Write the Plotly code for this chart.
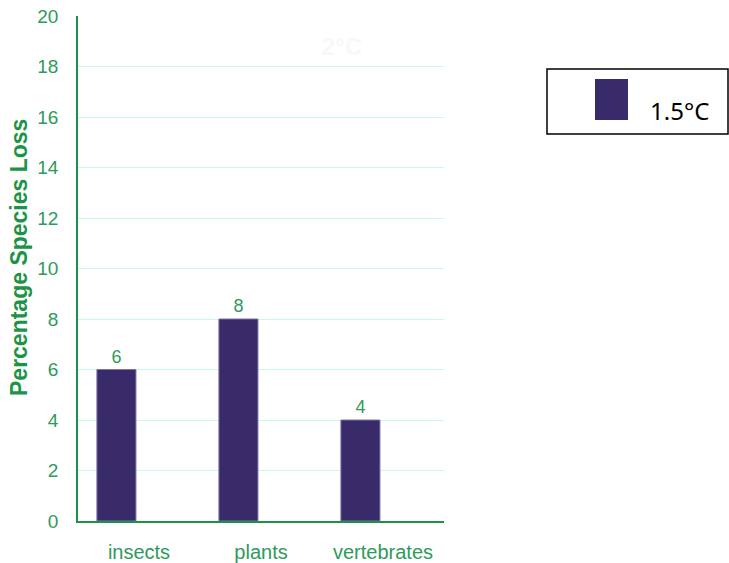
import plotly.graph_objects as go

# Species loss at 1.5°C warming, by group
categories = ["insects", "plants", "vertebrates"]
loss_15 = [6, 8, 4]
series_name = "1.5°C"
ghost_label = "2°C"
y_title = "Percentage Species Loss"

green = "#2e9a5c"
axis_green = "#1c9446"
bar_color = "#392a6a"

W, H = 729, 563
L, R, T, B = 78, 444, 16, 521  # plot area in pixels


def px(x):
    return (x - L) / (R - L)


def py(y):
    return (B - y) / (B - T)


fig = go.Figure()
fig.add_trace(go.Bar(
    x=categories,
    y=loss_15,
    name=series_name,
    width=0.32,
    offset=-0.345,
    marker=dict(color=bar_color, line=dict(color="#7e72a6", width=1)),
    text=[str(v) for v in loss_15],
    textposition="outside",
    textfont=dict(color=green, size=18, family="Liberation Sans, Arial"),
    cliponaxis=False,
    showlegend=False,
))

fig.update_layout(
    width=W,
    height=H,
    margin=dict(l=L, r=W - R, t=T, b=H - B, autoexpand=False),
    plot_bgcolor="white",
    paper_bgcolor="white",
    font=dict(family="Liberation Sans, Arial", color=green, size=16),
    xaxis=dict(
        automargin=False,
        showline=True, linecolor=axis_green, linewidth=1.5,
        showgrid=False, ticks="", ticklabelstandoff=12,
        tickfont=dict(size=20, color=green),
    ),
    yaxis=dict(
        automargin=False,
        range=[0, 20], dtick=2,
        showline=True, linecolor=axis_green, linewidth=1.5,
        showgrid=True, gridcolor="#c8fbe0", gridwidth=1.2,
        zeroline=False, ticks="", ticklabelstandoff=14,
        tickfont=dict(size=19, color=green),
    ),
    shapes=[
        # legend frame
        dict(type="rect", xref="paper", yref="paper",
             x0=px(547), x1=px(728), y0=py(134), y1=py(69),
             line=dict(color="black", width=1.5), fillcolor="white"),
        # legend swatch
        dict(type="rect", xref="paper", yref="paper",
             x0=px(595), x1=px(628), y0=py(120), y1=py(79),
             line=dict(width=0), fillcolor=bar_color),
    ],
    annotations=[
        dict(text=series_name, xref="paper", yref="paper",
             x=px(679), y=py(110.5), xanchor="center", yanchor="middle",
             showarrow=False,
             font=dict(size=24, color="black", family="Noto Sans, Liberation Sans")),
        dict(text="<b>" + ghost_label + "</b>", xref="paper", yref="paper",
             x=px(342), y=py(46), xanchor="center", yanchor="middle",
             showarrow=False,
             font=dict(size=24, color="#f8f8f8")),
        dict(text="<b>" + y_title + "</b>", xref="paper", yref="paper",
             x=px(19), y=py(258), xanchor="center", yanchor="middle",
             textangle=-90, showarrow=False,
             font=dict(size=23, color=axis_green)),
    ],
)

fig.write_html("out.html")
